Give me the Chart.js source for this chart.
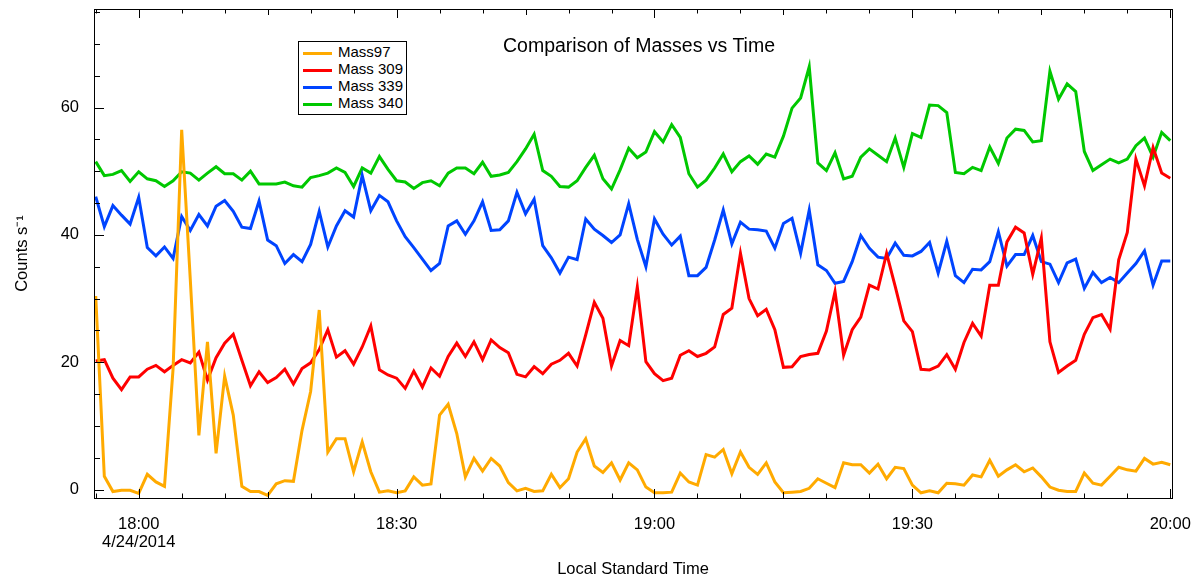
<!DOCTYPE html>
<html lang="en">
<head>
<meta charset="UTF-8">
<title>Comparison of Masses vs Time</title>
<script src="https://cdn.jsdelivr.net/npm/chart.js"></script>
<style>
  body { margin: 0; background: #fff; font-family: "Liberation Sans", Arial, sans-serif; }
  #wrap { position: relative; width: 1197px; height: 583px; }
  #title { position: absolute; left: 639px; top: 46px; transform: translate(-50%, -50%);
           font-size: 19.5px; line-height: 1; color: #000; white-space: nowrap; }
  #legend { position: absolute; left: 298px; top: 41px; width: 109px; height: 74px;
            box-sizing: border-box; border: 1px solid #000; background: #fff; padding-top: 2.3px; }
  .row { height: 16.9px; line-height: 16.9px; font-size: 15px; white-space: nowrap; color: #000; }
  .swatch { display: inline-block; width: 29px; height: 3px; margin: 0 6px 0 4px; vertical-align: middle; }
</style>
</head>
<body>
<div id="wrap">
  <canvas id="chart" width="1197" height="583"></canvas>
  <div id="title">Comparison of Masses vs Time</div>
  <div id="legend"></div>
</div>
<script>
// one sample per minute, starting 17:55 local standard time
const startMinute = 17 * 60 + 55;
const sampleCount = 126;

const seriesNames = ['Mass97', 'Mass 309', 'Mass 339', 'Mass 340'];
const seriesColors = ['#ffaa00', '#ff0000', '#0044ff', '#00c800'];

const mass97 = [
  30.4, 2.1, -0.3, -0.1, -0.1, -0.6, 2.4, 1.2, 0.5, 19.0,
  56.5, 33.0, 8.5, 23.2, 5.7, 17.8, 11.7, 0.5, -0.3, -0.3,
  -0.9, 0.9, 1.4, 1.3, 9.3, 15.4, 28.2, 5.9, 8.0, 8.0,
  2.8, 7.5, 2.8, -0.4, -0.2, -0.5, -0.2, 2.0, 0.7, 0.9,
  11.7, 13.4, 8.8, 2.0, 4.9, 2.9, 4.9, 3.7, 1.1, -0.2,
  0.2, -0.3, -0.2, 2.4, 0.3, 1.7, 5.9, 8.0, 3.7, 2.7,
  4.2, 1.5, 4.2, 3.1, 0.4, -0.5, -0.5, -0.4, 2.6, 1.2,
  0.7, 5.5, 5.1, 6.3, 2.5, 5.9, 3.5, 2.4, 4.2, 1.2,
  -0.5, -0.4, -0.3, 0.2, 1.7, 1.0, 0.3, 4.2, 3.9, 3.9,
  2.6, 4.0, 1.7, 3.5, 3.3, 0.7, -0.5, -0.2, -0.5, 1.0,
  0.9, 0.7, 2.3, 2.0, 4.6, 2.1, 3.1, 3.9, 2.8, 3.4,
  2.0, 0.4, -0.1, -0.3, -0.3, 2.6, 1.0, 0.7, 2.1, 3.5,
  3.1, 2.9, 4.9, 4.0, 4.3, 3.9
];
const mass309 = [
  20.2, 20.4, 17.5, 15.7, 17.7, 17.7, 18.9, 19.5, 18.5, 19.5,
  20.4, 19.9, 21.6, 17.2, 20.7, 23.0, 24.4, 20.3, 16.3, 18.5,
  16.8, 17.6, 18.9, 16.6, 19.0, 19.9, 22.0, 25.1, 20.8, 21.8,
  19.7, 22.4, 25.7, 18.8, 18.0, 17.5, 15.9, 18.6, 16.1, 19.1,
  17.8, 20.9, 23.0, 20.9, 23.2, 20.4, 23.5, 22.3, 21.5, 18.1,
  17.7, 19.3, 18.2, 19.7, 20.3, 21.4, 19.4, 24.3, 29.4, 26.9,
  19.4, 23.4, 22.6, 31.8, 20.1, 18.2, 17.1, 17.5, 21.1, 21.8,
  20.9, 21.4, 22.4, 27.5, 28.5, 37.1, 30.0, 27.3, 28.3, 25.1,
  19.2, 19.3, 20.9, 21.2, 21.4, 24.9, 31.1, 21.1, 25.1, 27.1,
  32.1, 31.5, 37.1, 31.9, 26.5, 24.8, 18.9, 18.8, 19.4, 21.2,
  18.9, 23.1, 26.1, 24.1, 32.1, 32.1, 38.9, 41.2, 40.3, 33.8,
  39.5, 23.2, 18.4, 19.4, 20.3, 24.4, 27.0, 27.5, 25.2, 36.1,
  40.4, 51.9, 47.7, 53.7, 49.7, 48.9
];
const mass339 = [
  46.0, 41.3, 44.6, 43.1, 41.7, 45.9, 38.0, 36.7, 38.1, 36.3,
  42.9, 40.7, 43.2, 41.4, 44.5, 45.4, 43.7, 41.2, 41.0, 45.3,
  39.2, 38.3, 35.5, 36.9, 35.8, 38.5, 43.7, 38.1, 41.4, 43.8,
  42.8, 49.3, 43.8, 46.2, 45.2, 42.2, 39.7, 38.0, 36.2, 34.4,
  35.5, 41.4, 42.2, 40.1, 42.2, 45.2, 40.7, 40.8, 42.2, 46.7,
  43.3, 45.6, 38.3, 36.4, 34.0, 36.5, 36.1, 42.5, 40.9, 39.9,
  38.8, 40.0, 44.9, 39.3, 35.0, 42.5, 40.1, 38.4, 39.8, 33.6,
  33.6, 34.9, 39.2, 43.9, 38.6, 42.0, 40.9, 40.8, 40.6, 37.9,
  41.8, 42.6, 37.1, 43.9, 35.3, 34.4, 32.4, 32.7, 35.8, 39.9,
  37.9, 36.5, 36.3, 38.7, 36.8, 36.7, 37.4, 38.8, 34.0, 39.0,
  33.6, 32.5, 34.6, 34.5, 35.8, 40.5, 35.1, 36.9, 36.9, 39.9,
  35.8, 35.4, 32.5, 35.6, 36.2, 31.6, 34.1, 32.5, 33.3, 32.5,
  34.0, 35.5, 37.5, 32.1, 35.9, 35.9
];
const mass340 = [
  51.5, 49.3, 49.5, 50.1, 48.4, 49.9, 48.8, 48.5, 47.6, 48.5,
  49.9, 49.7, 48.6, 49.7, 50.7, 49.6, 49.6, 48.6, 50.0, 48.0,
  48.0, 48.0, 48.3, 47.7, 47.5, 49.0, 49.3, 49.7, 50.5, 49.8,
  47.6, 50.5, 49.7, 52.3, 50.3, 48.5, 48.3, 47.3, 48.2, 48.5,
  47.7, 49.7, 50.5, 50.5, 49.6, 51.4, 49.2, 49.4, 49.8, 51.5,
  53.5, 55.8, 50.1, 49.2, 47.6, 47.5, 48.5, 50.6, 52.5, 48.8,
  47.2, 50.2, 53.6, 52.1, 53.0, 56.2, 54.6, 57.3, 55.3, 49.6,
  47.5, 48.6, 50.5, 52.7, 49.9, 51.5, 52.4, 51.1, 52.7, 52.2,
  55.5, 59.9, 61.5, 66.4, 51.3, 50.1, 52.9, 48.8, 49.2, 52.2,
  53.5, 52.5, 51.5, 55.2, 50.6, 55.9, 55.3, 60.4, 60.3, 59.2,
  49.8, 49.6, 50.6, 50.1, 53.8, 51.2, 55.2, 56.6, 56.4, 54.6,
  54.8, 65.7, 61.3, 63.7, 62.5, 53.1, 50.1, 51.0, 51.9, 51.3,
  51.9, 54.0, 55.2, 52.2, 56.1, 54.8
];

const xTickMinutes = [1080, 1110, 1140, 1170, 1200];
const xTickLabels = [['18:00', '4/24/2014'], '18:30', '19:00', '19:30', '20:00'];
const yTickValues = [0, 20, 40, 60];

const minutes = [];
for (let i = 0; i < sampleCount; i++) minutes.push(startMinute + i);

const allSeries = [mass97, mass309, mass339, mass340];
const datasets = allSeries.map((vals, s) => ({
  label: seriesNames[s],
  data: vals.map((v, i) => ({ x: minutes[i], y: v })),
  borderColor: seriesColors[s],
  backgroundColor: seriesColors[s],
  borderWidth: 3,
  pointRadius: 0,
  tension: 0,
  fill: false
}));

// legend drawn as html inside the plot
const legend = document.getElementById('legend');
seriesNames.forEach((name, s) => {
  const row = document.createElement('div');
  row.className = 'row';
  row.innerHTML = '<span class="swatch" style="background:' + seriesColors[s] + '"></span>' + name;
  legend.appendChild(row);
});

// frame and inward tick marks
const frameTicks = {
  id: 'frameTicks',
  afterDatasetsDraw(chart) {
    const { ctx, chartArea: a, scales: { x, y } } = chart;
    ctx.save();
    ctx.strokeStyle = '#000';
    ctx.lineWidth = 1;
    ctx.beginPath();
    x.ticks.forEach(t => {
      const px = Math.round(x.getPixelForValue(t.value)) + 0.5;
      const len = t.value % 30 === 0 ? 9 : (t.value % 15 === 0 ? 6 : 4.5);
      ctx.moveTo(px, a.bottom); ctx.lineTo(px, a.bottom - len);
      ctx.moveTo(px, a.top); ctx.lineTo(px, a.top + len);
    });
    y.ticks.forEach(t => {
      const py = Math.round(y.getPixelForValue(t.value)) + 0.5;
      const len = t.value % 20 === 0 ? 10 : 6;
      ctx.moveTo(a.left, py); ctx.lineTo(a.left + len, py);
    });
    ctx.stroke();
    ctx.strokeRect(Math.round(a.left) + 0.5, Math.round(a.top) + 0.5,
                   Math.round(a.right - a.left), Math.round(a.bottom - a.top));
    ctx.restore();
  }
};

Chart.defaults.font.family = '"Liberation Sans", Arial, sans-serif';
Chart.defaults.color = '#000';

new Chart(document.getElementById('chart'), {
  type: 'line',
  data: { datasets: datasets },
  options: {
    responsive: false,
    animation: false,
    events: [],
    layout: { padding: { left: 0, top: 9, right: 25, bottom: 0 } },
    plugins: { legend: { display: false }, tooltip: { enabled: false } },
    scales: {
      x: {
        type: 'linear',
        min: 1074.8,
        max: 1200.2,
        grid: { display: false },
        border: { display: false },
        ticks: {
          stepSize: 5,
          includeBounds: false,
          autoSkip: false,
          maxRotation: 0,
          padding: 9,
          font: { size: 16.5, lineHeight: 1.1 },
          callback: v => {
            const k = xTickMinutes.indexOf(v);
            return k >= 0 ? xTickLabels[k] : '';
          }
        },
        title: {
          display: true,
          text: 'Local Standard Time',
          font: { size: 16.5 },
          padding: { top: 0, bottom: 4 }
        },
        afterFit: s => { s.height = 85; s.paddingLeft = 0; s.paddingRight = 0; }
      },
      y: {
        min: -1.32,
        max: 75.47,
        grid: { display: false },
        border: { display: false },
        ticks: {
          stepSize: 5,
          includeBounds: false,
          autoSkip: false,
          padding: 7,
          font: { size: 16.5 },
          callback: v => yTickValues.includes(v) ? String(v) : ''
        },
        title: {
          display: true,
          text: 'Counts s\u207B\u00B9',
          font: { size: 16.5 },
          padding: { top: 13, bottom: 0 }
        },
        afterFit: s => { s.width = 94; s.paddingTop = 0; s.paddingBottom = 0; }
      }
    }
  },
  plugins: [frameTicks]
});
</script>
</body>
</html>
